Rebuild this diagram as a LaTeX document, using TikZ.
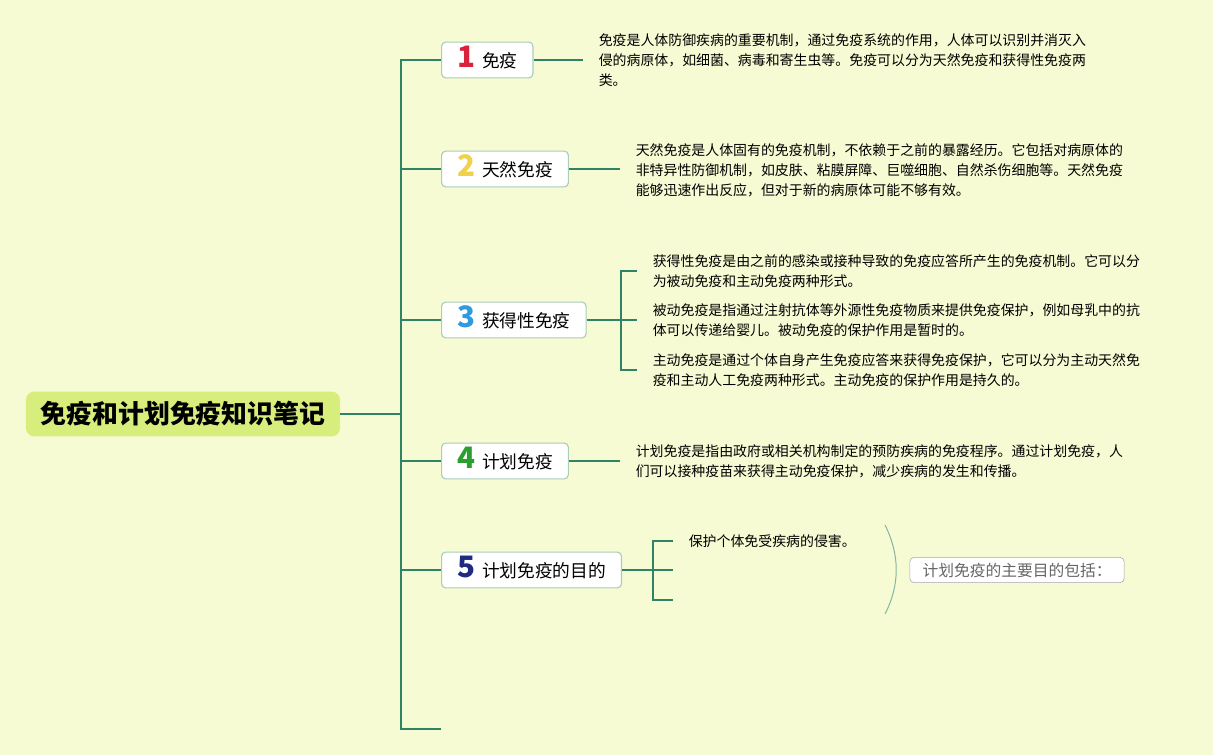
\documentclass[tikz,border=0pt]{standalone}
\usepackage{fontspec}
\setmainfont{Noto Sans CJK SC}
\usetikzlibrary{positioning}

\definecolor{bgc}{HTML}{F6FBD3}
\definecolor{linec}{HTML}{2E8565}
\definecolor{rootc}{HTML}{D8EE7C}
\definecolor{boxc}{HTML}{A9CDB8}
\definecolor{n1}{HTML}{D9223B}
\definecolor{n2}{HTML}{F0D24A}
\definecolor{n3}{HTML}{2E9BE0}
\definecolor{n4}{HTML}{2A9E2E}
\definecolor{n5}{HTML}{1F2A80}

\tikzset{
  link/.style={linec, line width=1.4pt},
  root/.style={fill=rootc, rounded corners=6pt, minimum height=31.9pt, inner xsep=10.5pt,
    font=\fontsize{18.4}{20}\selectfont\bfseries},
  topic/.style={draw=boxc, line width=0.8pt, fill=white, rounded corners=3pt, anchor=west,
    minimum height=25.5pt, inner xsep=11pt, inner ysep=0pt, text height=11pt, text depth=0pt,
    font=\fontsize{12.6}{14}\selectfont},
  note/.style={anchor=west, align=left, inner xsep=11pt, inner ysep=0pt,
    font=\fontsize{9.9}{14.2}\selectfont},
  summ/.style={draw=gray!70, fill=white, rounded corners=3pt, minimum height=18pt, inner xsep=9pt,
    inner ysep=0pt, text=black!60, font=\fontsize{11.2}{13}\selectfont}
}
\newcommand{\num}[2]{{\color{#1}\fontsize{21}{21}\selectfont\bfseries #2}\hspace{5pt}}

\begin{document}
\begin{tikzpicture}[x=0.025cm,y=-0.025cm]
\fill[bgc] (0,0) rectangle (1213,755);
\useasboundingbox (0,0) rectangle (1213,755);

\node[root] (root) at (183,414) {免疫和计划免疫知识笔记};

% trunk
\coordinate (ttop) at (401,59);
\coordinate (tbot) at (401,729);
\coordinate (tend) at (441,729);
\draw[link] (root.east) -- (root.east -| ttop);
\draw[link] (ttop) -- (tbot) -- (tend);

\node[topic] (b1) at (441,60)  {\num{n1}{1}免疫};
\node[topic] (b2) at (441,169) {\num{n2}{2}天然免疫};
\node[topic] (b3) at (441,320) {\num{n3}{3}获得性免疫};
\node[topic] (b4) at (441,461) {\num{n4}{4}计划免疫};
\node[topic] (b5) at (441,570) {\num{n5}{5}计划免疫的目的};
\foreach \b in {b1,b2,b3,b4,b5}
  \draw[link] (\b.west -| ttop) -- (\b.west);

% notes
\node[note] (t1) at (583,60) {免疫是人体防御疾病的重要机制，通过免疫系统的作用，人体可以识别并消灭入\\侵的病原体，如细菌、病毒和寄生虫等。免疫可以分为天然免疫和获得性免疫两\\类。};
\draw[link] (b1.east) -- (b1.east -| t1.west);

\node[note] (t2) at (620,170) {天然免疫是人体固有的免疫机制，不依赖于之前的暴露经历。它包括对病原体的\\非特异性防御机制，如皮肤、粘膜屏障、巨噬细胞、自然杀伤细胞等。天然免疫\\能够迅速作出反应，但对于新的病原体可能不够有效。};
\draw[link] (b2.east) -- (b2.east -| t2.west);

\coordinate (j3) at (621,320);
\node[note] (t31) at (637,271) {获得性免疫是由之前的感染或接种导致的免疫应答所产生的免疫机制。它可以分\\为被动免疫和主动免疫两种形式。};
\node[note] (t32) at (637,320) {被动免疫是指通过注射抗体等外源性免疫物质来提供免疫保护，例如母乳中的抗\\体可以传递给婴儿。被动免疫的保护作用是暂时的。};
\node[note] (t33) at (637,370) {主动免疫是通过个体自身产生免疫应答来获得免疫保护，它可以分为主动天然免\\疫和主动人工免疫两种形式。主动免疫的保护作用是持久的。};
\draw[link] (b3.east) -- (b3.east -| t32.west);
\draw[link] (t31.west) -- (t31.west -| j3) -- (t33.west -| j3) -- (t33.west);

\node[note] (t4) at (620,461) {计划免疫是指由政府或相关机构制定的预防疾病的免疫程序。通过计划免疫，人\\们可以接种疫苗来获得主动免疫保护，减少疾病的发生和传播。};
\draw[link] (b4.east) -- (b4.east -| t4.west);

\coordinate (j5) at (653,570);
\coordinate (e53) at (673,600);
\node[note] (t51) at (673,541) {保护个体免受疾病的侵害。};
\draw[link] (b5.east) -- (b5.east -| e53);
\draw[link] (t51.west) -- (t51.west -| j5) -- (e53 -| j5) -- (e53);

% summary
\coordinate (s1) at (885,525);
\coordinate (s2) at (885,614);
\draw[linec!60, line width=0.7pt] (s1) .. controls (900,555) and (900,585) .. (s2);
\node[summ] (sm) at (1017,570) {计划免疫的主要目的包括：};
\end{tikzpicture}
\end{document}
